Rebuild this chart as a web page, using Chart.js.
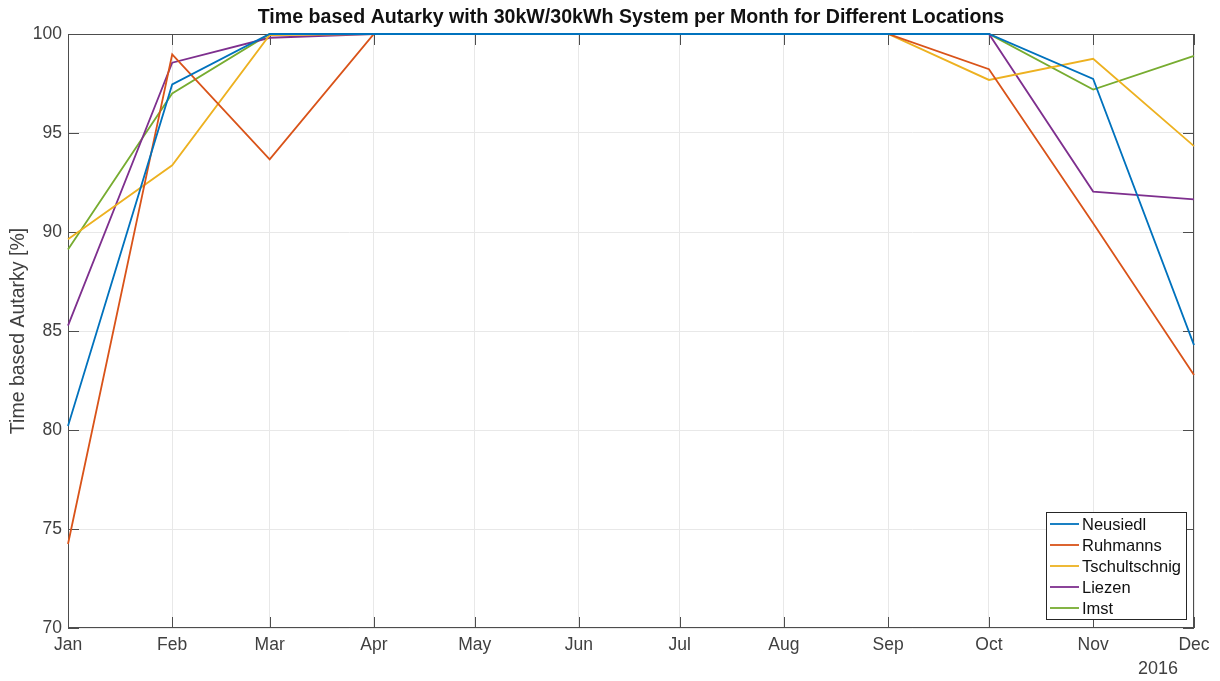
<!DOCTYPE html>
<html>
<head>
<meta charset="utf-8">
<script src="https://cdn.jsdelivr.net/npm/chart.js@4.4.1/dist/chart.umd.min.js"></script>
<style>
  html, body { margin: 0; padding: 0; background: #fff; }
  #wrap { width: 1220px; height: 681px; position: relative; }
</style>
</head>
<body>
<div id="wrap"><canvas id="c" width="1220" height="681"></canvas></div>
<script>
// Month labels and the day-of-year (2016) on which each month starts
const months = ['Jan','Feb','Mar','Apr','May','Jun','Jul','Aug','Sep','Oct','Nov','Dec'];
const monthStartDay = [0, 31, 60, 91, 121, 152, 182, 213, 244, 274, 305, 335];
const yearLabel = '2016';

// Monthly time based autarky [%] per location
const neusiedl      = [80.2, 97.45, 100, 100, 100, 100, 100, 100, 100, 100, 97.73, 84.29];
const ruhmanns      = [74.24, 98.97, 93.67, 100, 100, 100, 100, 100, 100, 98.22, 90.44, 82.78];
const tschultschnig = [89.63, 93.37, 99.95, 100, 100, 100, 100, 100, 100, 97.68, 98.75, 94.34];
const liezen        = [85.27, 98.55, 99.81, 100, 100, 100, 100, 100, 100, 100, 92.04, 91.65];
const imst          = [89.12, 97.0, 100, 100, 100, 100, 100, 100, 100, 100, 97.19, 98.9];

const yTicks = [70, 75, 80, 85, 90, 95, 100];

const seriesNames = ['Neusiedl', 'Ruhmanns', 'Tschultschnig', 'Liezen', 'Imst'];
const seriesValues = [neusiedl, ruhmanns, tschultschnig, liezen, imst];
const seriesColors = ['#0072BD', '#D95319', '#EDB120', '#7E2F8E', '#77AC30'];

const FONT = '"Liberation Sans", Arial, Helvetica, sans-serif';
const AXIS_COLOR = '#4d4d4d';
const TEXT_COLOR = '#404040';

const datasets = seriesNames.map((name, i) => ({
  label: name,
  data: seriesValues[i].map((v, k) => ({ x: monthStartDay[k], y: v })),
  borderColor: seriesColors[i],
  backgroundColor: seriesColors[i],
  borderWidth: 1.8,
  pointRadius: 0,
  tension: 0,
  fill: false,
  clip: 3
}));

// Axes box with inward ticks, drawn beneath the data lines
const frame = {
  id: 'frame',
  beforeDatasetsDraw(chart) {
    const { ctx, chartArea: a, scales } = chart;
    const xs = scales.x, ys = scales.y;
    ctx.save();
    ctx.strokeStyle = AXIS_COLOR;
    ctx.lineWidth = 1;
    ctx.strokeRect(a.left + 0.5, a.top + 0.5, a.right - a.left - 1, a.bottom - a.top - 1);
    const tl = 11;
    ctx.beginPath();
    monthStartDay.forEach(d => {
      const x = Math.round(xs.getPixelForValue(d)) + 0.5;
      ctx.moveTo(x, a.bottom); ctx.lineTo(x, a.bottom - tl);
      ctx.moveTo(x, a.top); ctx.lineTo(x, a.top + tl);
    });
    yTicks.forEach(v => {
      const y = Math.round(ys.getPixelForValue(v)) + 0.5;
      ctx.moveTo(a.left, y); ctx.lineTo(a.left + tl, y);
      ctx.moveTo(a.right, y); ctx.lineTo(a.right - tl, y);
    });
    ctx.stroke();
    ctx.restore();
  }
};

// Title, axis label, year label and legend box
const annotations = {
  id: 'annotations',
  afterDatasetsDraw(chart) {
    const { ctx, chartArea: a } = chart;
    ctx.save();
    ctx.fillStyle = '#111';
    ctx.font = 'bold 19.6px ' + FONT;
    ctx.textAlign = 'center';
    ctx.textBaseline = 'middle';
    ctx.fillText('Time based Autarky with 30kW/30kWh System per Month for Different Locations', (a.left + a.right) / 2, 18);

    ctx.fillStyle = TEXT_COLOR;
    ctx.font = '19.5px ' + FONT;
    ctx.save();
    ctx.translate(19, (a.top + a.bottom) / 2);
    ctx.rotate(-Math.PI / 2);
    ctx.fillText('Time based Autarky [%]', 0, 0);
    ctx.restore();

    ctx.font = '18px ' + FONT;
    ctx.fillText(yearLabel, a.right - 36, 669);

    const lx = 1046, ly = 512, lw = 140, lh = 107;
    ctx.fillStyle = '#fff';
    ctx.fillRect(lx, ly, lw, lh);
    ctx.strokeStyle = '#262626';
    ctx.lineWidth = 1;
    ctx.strokeRect(lx + 0.5, ly + 0.5, lw, lh);
    ctx.font = '16.5px ' + FONT;
    ctx.textAlign = 'left';
    ctx.textBaseline = 'middle';
    chart.data.datasets.forEach((ds, i) => {
      const y = ly + 12 + i * 21;
      ctx.strokeStyle = ds.borderColor;
      ctx.lineWidth = 1.8;
      ctx.beginPath();
      ctx.moveTo(lx + 4, y); ctx.lineTo(lx + 33, y);
      ctx.stroke();
      ctx.fillStyle = '#111';
      ctx.fillText(ds.label, lx + 36, y + 1);
    });
    ctx.restore();
  }
};

new Chart(document.getElementById('c'), {
  type: 'line',
  data: { datasets },
  options: {
    responsive: false,
    animation: false,
    layout: { padding: { top: 34, right: 26, left: 0, bottom: 0 } },
    plugins: { legend: { display: false }, title: { display: false }, tooltip: { enabled: false } },
    scales: {
      x: {
        type: 'linear',
        min: monthStartDay[0],
        max: monthStartDay[monthStartDay.length - 1],
        afterBuildTicks(scale) { scale.ticks = monthStartDay.map(v => ({ value: v })); },
        afterFit(scale) { scale.height = 53; },
        ticks: {
          autoSkip: false,
          maxRotation: 0,
          padding: 7,
          color: TEXT_COLOR,
          font: { family: FONT, size: 17.5 },
          callback(value) { const i = monthStartDay.indexOf(value); return i >= 0 ? months[i] : ''; }
        },
        grid: { color: '#e8e8e8', drawTicks: false, lineWidth: 1 },
        border: { display: false }
      },
      y: {
        min: 70,
        max: 100,
        afterBuildTicks(scale) { scale.ticks = yTicks.map(v => ({ value: v })); },
        afterFit(scale) { scale.width = 68; },
        ticks: {
          padding: 6,
          color: TEXT_COLOR,
          font: { family: FONT, size: 17.5 }
        },
        grid: { color: '#e8e8e8', drawTicks: false, lineWidth: 1 },
        border: { display: false }
      }
    }
  },
  plugins: [frame, annotations]
});
</script>
</body>
</html>
